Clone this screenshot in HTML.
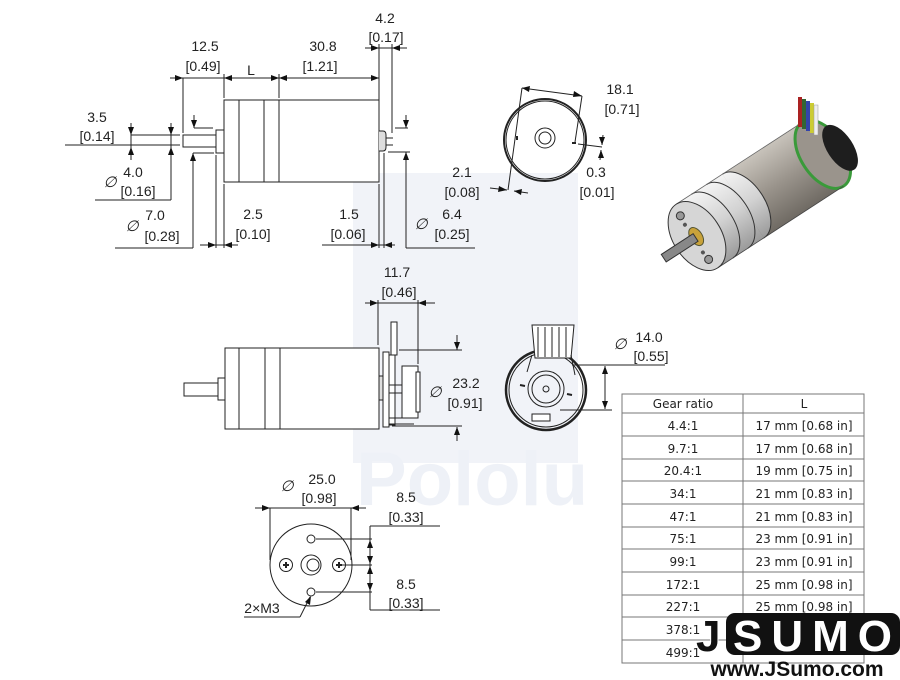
<!DOCTYPE html>
<html><head><meta charset="utf-8"><style>
html,body{margin:0;padding:0;background:#fff;}
svg{display:block;}
text{font-family:"Liberation Sans",sans-serif;fill:#222;}
</style></head><body>
<svg width="900" height="680" viewBox="0 0 900 680" xmlns="http://www.w3.org/2000/svg">
<defs>
<linearGradient id="g1" x1="0" y1="0" x2="0" y2="1"><stop offset="0" stop-color="#f4f4f4"/><stop offset="0.5" stop-color="#d2d2d2"/><stop offset="1" stop-color="#9a9a9a"/></linearGradient>
<linearGradient id="g2" x1="0" y1="0" x2="0" y2="1"><stop offset="0" stop-color="#c8c3bb"/><stop offset="0.5" stop-color="#9a948c"/><stop offset="1" stop-color="#6f6a63"/></linearGradient>
</defs>
<!-- watermark -->
<rect x="353" y="173" width="225" height="290" fill="#f1f3f8"/>
<text x="356" y="505" font-size="76" font-weight="bold" style="fill:#eef1f7">Pololu</text>

<g stroke="#222" stroke-width="1" fill="none">
<!-- top side view -->
<rect x="224" y="100" width="55" height="82" fill="#fff"/>
<line x1="239" y1="100" x2="239" y2="182"/><line x1="264" y1="100" x2="264" y2="182"/>
<rect x="279" y="100" width="100" height="82" fill="#fff"/>
<rect x="216" y="130" width="8" height="23" fill="#fff"/>
<rect x="183" y="135" width="33" height="12" fill="#fff"/>
<path d="M379,131 h4 q3,0 3,4 v12 q0,4 -3,4 h-4" fill="#ddd"/>
<line x1="386" y1="138" x2="393" y2="138"/><line x1="386" y1="145" x2="393" y2="145"/>
<!-- top dims -->
<line x1="170" y1="78" x2="379" y2="78"/>
<line x1="183" y1="78" x2="183" y2="133"/>
<line x1="224" y1="74" x2="224" y2="98"/><line x1="279" y1="74" x2="279" y2="98"/>
<line x1="379" y1="44" x2="379" y2="128"/><line x1="392" y1="44" x2="392" y2="133"/>
<line x1="365" y1="48" x2="407" y2="48"/>
<line x1="406" y1="115" x2="406" y2="128"/><line x1="395" y1="128" x2="408" y2="128"/>
<line x1="406" y1="152" x2="406" y2="248"/><line x1="388" y1="152" x2="410" y2="152"/>
<line x1="406" y1="248" x2="475" y2="248"/>
<!-- left dims -->
<line x1="65" y1="145" x2="180" y2="145"/>
<line x1="131" y1="123" x2="131" y2="160"/>
<line x1="131" y1="135" x2="180" y2="135"/>
<line x1="171" y1="123" x2="171" y2="200"/>
<line x1="95" y1="200" x2="171" y2="200"/>
<line x1="193" y1="248" x2="193" y2="153"/><line x1="115" y1="248" x2="193" y2="248"/>
<line x1="193" y1="153" x2="214" y2="153"/>
<line x1="194" y1="115" x2="194" y2="128"/><line x1="194" y1="128" x2="213" y2="128"/>
<!-- bottom dims -->
<line x1="216" y1="155" x2="216" y2="248"/><line x1="224" y1="184" x2="224" y2="248"/>
<line x1="200" y1="245" x2="238" y2="245"/>
<line x1="379" y1="184" x2="379" y2="248"/><line x1="384" y1="153" x2="384" y2="248"/>
<line x1="322" y1="245" x2="395" y2="245"/>

<!-- top end view -->
<circle cx="545" cy="140" r="41" stroke-width="2"/>
<circle cx="545" cy="140" r="39"/>
<circle cx="545" cy="138" r="10"/><circle cx="545" cy="138" r="6"/>
<line x1="517" y1="136" x2="517" y2="140" stroke-width="2"/>
<line x1="572" y1="143" x2="576" y2="143" stroke-width="2"/>
<line x1="522" y1="88" x2="508" y2="190"/><line x1="582" y1="96" x2="575" y2="142"/>
<line x1="522" y1="88" x2="582" y2="96"/>
<line x1="490" y1="188" x2="507" y2="190"/><line x1="528" y1="193" x2="514" y2="191"/>
<line x1="578" y1="144" x2="602" y2="147"/>
<line x1="603" y1="135" x2="602" y2="145"/><line x1="600" y1="160" x2="601" y2="150"/>

<!-- middle side view -->
<rect x="225" y="348" width="55" height="81" fill="#fff"/>
<line x1="239" y1="348" x2="239" y2="429"/><line x1="265" y1="348" x2="265" y2="429"/>
<rect x="280" y="348" width="99" height="81" fill="#fff"/>
<rect x="218" y="378" width="7" height="22" fill="#fff"/>
<rect x="184" y="383" width="34" height="13" fill="#fff"/>
<rect x="379" y="376" width="5" height="24" fill="#ddd"/>
<rect x="383" y="352" width="6" height="75" fill="#fff"/>
<rect x="389" y="355" width="6" height="70" fill="#fff"/>
<rect x="391" y="322" width="6" height="33" fill="#fff"/>
<rect x="402" y="366" width="16" height="52" fill="#fff"/>
<rect x="416" y="372" width="4" height="40" fill="#fff"/>
<line x1="389" y1="385" x2="402" y2="385"/><line x1="389" y1="393" x2="402" y2="393"/>
<line x1="389" y1="418" x2="414" y2="418"/><line x1="389" y1="424" x2="414" y2="424"/>
<line x1="378" y1="300" x2="378" y2="345"/><line x1="418" y1="300" x2="418" y2="364"/>
<line x1="365" y1="303" x2="435" y2="303"/>
<line x1="399" y1="350" x2="462" y2="350"/>
<line x1="457" y1="335" x2="457" y2="350"/>
<line x1="392" y1="426" x2="462" y2="426"/>
<line x1="457" y1="441" x2="457" y2="427"/>

<!-- middle end view -->
<circle cx="546" cy="390" r="40" stroke-width="2.5"/>
<circle cx="546" cy="390" r="37"/>
<circle cx="546" cy="389" r="18"/><circle cx="546" cy="389" r="14"/><circle cx="546" cy="389" r="3"/>
<path d="M532,325 h42 l-3,33 h-36 z" fill="#fff"/>
<line x1="538" y1="327" x2="538" y2="357"/><line x1="545" y1="327" x2="545" y2="357"/><line x1="552" y1="327" x2="552" y2="357"/><line x1="559" y1="327" x2="559" y2="357"/><line x1="566" y1="327" x2="566" y2="357"/>
<line x1="532" y1="355" x2="527" y2="372"/><line x1="571" y1="355" x2="575" y2="375"/>
<line x1="520" y1="385" x2="525" y2="386" stroke-width="2"/><line x1="567" y1="394" x2="572" y2="395" stroke-width="2"/>
<rect x="532" y="414" width="18" height="7" fill="#fff"/>
<line x1="572" y1="365" x2="665" y2="365"/><line x1="560" y1="410" x2="612" y2="410"/>
<line x1="605" y1="366" x2="605" y2="409"/>

<!-- bottom end view -->
<circle cx="311" cy="565" r="41" fill="#fff"/>
<circle cx="311" cy="539" r="4"/><circle cx="311" cy="592" r="4"/>
<circle cx="286" cy="565" r="6.5"/><circle cx="339" cy="565" r="6.5"/>
<path d="M283,565 h6 M286,562 v6 M336,565 h6 M339,562 v6" stroke-width="2"/>
<circle cx="311" cy="565" r="10"/><circle cx="313" cy="565" r="6"/>
<line x1="270" y1="508" x2="270" y2="560"/><line x1="351" y1="508" x2="351" y2="560"/>
<line x1="255" y1="508" x2="366" y2="508"/>
<line x1="370" y1="526" x2="440" y2="526"/><line x1="370" y1="610" x2="440" y2="610"/>
<line x1="316" y1="539" x2="372" y2="539"/><line x1="340" y1="565" x2="372" y2="565"/><line x1="316" y1="592" x2="372" y2="592"/>
<line x1="370" y1="526" x2="370" y2="610"/>
<line x1="244" y1="617" x2="300" y2="617"/><line x1="300" y1="617" x2="310" y2="597"/>
</g>

<!-- arrowheads -->
<g fill="#111" stroke="none">
<path d="M183,78 l-8,-3 v6z M224,78 l8,-3 v6z M279,78 l-8,-3 v6z M279,78 l8,-3 v6z M379,78 l-8,-3 v6z"/>
<path d="M379,48 l-8,-3 v6z M392,48 l8,-3 v6z"/>
<path d="M216,245 l-8,-3 v6z M224,245 l8,-3 v6z M379,245 l-8,-3 v6z M384,245 l8,-3 v6z"/>
<path d="M131,135 l-3,-8 h6z M131,147 l-3,8 h6z M171,135 l-3,-8 h6z M171,147 l-3,8 h6z M193,153 l-3,8 h6z M194,128 l-3,-8 h6z M406,128 l-3,-8 h6z M406,152 l-3,8 h6z"/>
<path d="M522,88 l8,-2 l-1,6z M582,96 l-8,-5 l-1,6z"/>
<path d="M507,190 l-8,-4 l-1,6z M514,191 l8,-2 l-1,6z M602,145 l-3,-8 h6z M601,150 l-3,8 h6z"/>
<path d="M378,303 l-8,-3 v6z M418,303 l8,-3 v6z"/>
<path d="M457,350 l-3,-8 h6z M457,427 l-3,8 h6z"/>
<path d="M605,366 l-3,8 h6z M605,409 l-3,-8 h6z"/>
<path d="M270,508 l-8,-3 v6z M351,508 l8,-3 v6z"/>
<path d="M370,540 l-3,8 h6z M370,564 l-3,-8 h6z M370,566 l-3,8 h6z M370,591 l-3,-8 h6z"/>
<path d="M311,596 l-1,9 l-5,-3z"/>
</g>

<!-- 3D motor -->
<g transform="translate(697,236) rotate(-33)">
<rect x="0" y="-38" width="150" height="76" fill="url(#g2)"/>
<ellipse cx="150" cy="0" rx="22" ry="38" fill="#9a948c" stroke="#3a9a3a" stroke-width="3"/>
<ellipse cx="168" cy="4" rx="13" ry="26" fill="#1e1e1e"/>
<rect x="0" y="-38" width="55" height="76" fill="url(#g1)"/>
<path d="M55,-38 a22,38 0 0 1 0,76" fill="url(#g1)" stroke="#333"/>
<path d="M18,-38 a22,38 0 0 1 0,76" fill="none" stroke="#333"/>
<path d="M36,-38 a22,38 0 0 1 0,76" fill="none" stroke="#333"/>
<line x1="0" y1="-38" x2="150" y2="-38" stroke="#666" stroke-width="0.8"/>
<line x1="0" y1="38" x2="150" y2="38" stroke="#444" stroke-width="0.8"/>
<ellipse cx="0" cy="0" rx="24" ry="38" fill="#d6d6d6" stroke="#333"/>
<ellipse cx="-1" cy="0" rx="6" ry="10" fill="#c8a23a" stroke="#553"/>
<rect x="-40" y="-4" width="38" height="9" fill="#888" stroke="#333"/>
<circle cx="-3" cy="-26" r="4" fill="#999" stroke="#333"/><circle cx="-3" cy="26" r="4" fill="#999" stroke="#333"/>
<circle cx="-4" cy="-16" r="2" fill="#555"/><circle cx="-4" cy="17" r="2" fill="#555"/>
</g>
<g>
<rect x="798" y="97" width="4" height="30" fill="#a22"/><rect x="802" y="99" width="4" height="30" fill="#363"/><rect x="806" y="101" width="4" height="30" fill="#34a"/><rect x="810" y="103" width="4" height="30" fill="#cc3"/><rect x="814" y="105" width="4" height="30" fill="#eee" stroke="#999" stroke-width="0.5"/>
</g>

<!-- labels -->
<g font-size="14" text-anchor="middle">
<text x="205" y="51">12.5</text><text x="203" y="71">[0.49]</text>
<text x="251" y="75">L</text>
<text x="323" y="51">30.8</text><text x="320" y="71">[1.21]</text>
<text x="385" y="23">4.2</text><text x="386" y="42">[0.17]</text>
<text x="97" y="122">3.5</text><text x="97" y="141">[0.14]</text>
<text x="133" y="177">4.0</text><text x="138" y="196">[0.16]</text>
<text x="155" y="220">7.0</text><text x="162" y="241">[0.28]</text>
<text x="253" y="219">2.5</text><text x="253" y="239">[0.10]</text>
<text x="349" y="219">1.5</text><text x="348" y="239">[0.06]</text>
<text x="452" y="219">6.4</text><text x="452" y="239">[0.25]</text>
<text x="462" y="177">2.1</text><text x="462" y="197">[0.08]</text>
<text x="620" y="94">18.1</text><text x="622" y="114">[0.71]</text>
<text x="596" y="177">0.3</text><text x="597" y="197">[0.01]</text>
<text x="397" y="277">11.7</text><text x="399" y="297">[0.46]</text>
<text x="466" y="388">23.2</text><text x="465" y="408">[0.91]</text>
<text x="649" y="342">14.0</text><text x="651" y="361">[0.55]</text>
<text x="322" y="484">25.0</text><text x="319" y="503">[0.98]</text>
<text x="406" y="502">8.5</text><text x="406" y="522">[0.33]</text>
<text x="406" y="589">8.5</text><text x="406" y="608">[0.33]</text>
<text x="262" y="613">2×M3</text>
</g>
<g font-size="15" font-style="italic" text-anchor="middle">
<text x="110" y="187">∅</text><text x="132" y="231">∅</text><text x="421" y="229">∅</text>
<text x="435" y="397">∅</text><text x="620" y="349">∅</text><text x="287" y="491">∅</text>
</g>

<!-- table -->
<g stroke="#777" stroke-width="1" fill="none">
<rect x="622" y="394" width="242" height="269"/>
<line x1="743" y1="394" x2="743" y2="663"/>
<line x1="622" y1="413" x2="864" y2="413"/><line x1="622" y1="436" x2="864" y2="436"/><line x1="622" y1="459" x2="864" y2="459"/><line x1="622" y1="481" x2="864" y2="481"/><line x1="622" y1="504" x2="864" y2="504"/><line x1="622" y1="527" x2="864" y2="527"/><line x1="622" y1="549" x2="864" y2="549"/><line x1="622" y1="572" x2="864" y2="572"/><line x1="622" y1="595" x2="864" y2="595"/><line x1="622" y1="617" x2="864" y2="617"/><line x1="622" y1="640" x2="864" y2="640"/>
</g>
<g font-size="12" text-anchor="middle" style="font-family:'DejaVu Sans',sans-serif">
<text x="683" y="408" style="font-family:'DejaVu Sans'">Gear ratio</text><text x="804" y="408" style="font-family:'DejaVu Sans'">L</text>
<text x="683" y="430" style="font-family:'DejaVu Sans'">4.4:1</text><text x="804" y="430" style="font-family:'DejaVu Sans'">17 mm [0.68 in]</text>
<text x="683" y="453" style="font-family:'DejaVu Sans'">9.7:1</text><text x="804" y="453" style="font-family:'DejaVu Sans'">17 mm [0.68 in]</text>
<text x="683" y="475" style="font-family:'DejaVu Sans'">20.4:1</text><text x="804" y="475" style="font-family:'DejaVu Sans'">19 mm [0.75 in]</text>
<text x="683" y="498" style="font-family:'DejaVu Sans'">34:1</text><text x="804" y="498" style="font-family:'DejaVu Sans'">21 mm [0.83 in]</text>
<text x="683" y="521" style="font-family:'DejaVu Sans'">47:1</text><text x="804" y="521" style="font-family:'DejaVu Sans'">21 mm [0.83 in]</text>
<text x="683" y="543" style="font-family:'DejaVu Sans'">75:1</text><text x="804" y="543" style="font-family:'DejaVu Sans'">23 mm [0.91 in]</text>
<text x="683" y="566" style="font-family:'DejaVu Sans'">99:1</text><text x="804" y="566" style="font-family:'DejaVu Sans'">23 mm [0.91 in]</text>
<text x="683" y="589" style="font-family:'DejaVu Sans'">172:1</text><text x="804" y="589" style="font-family:'DejaVu Sans'">25 mm [0.98 in]</text>
<text x="683" y="611" style="font-family:'DejaVu Sans'">227:1</text><text x="804" y="611" style="font-family:'DejaVu Sans'">25 mm [0.98 in]</text>
<text x="683" y="634" style="font-family:'DejaVu Sans'">378:1</text>
<text x="683" y="657" style="font-family:'DejaVu Sans'">499:1</text>
</g>

<!-- JSUMO logo -->
<rect x="726" y="613" width="174" height="42" rx="9" fill="#111"/>
<text x="696" y="651" font-size="44" font-weight="bold" style="fill:#111;stroke:#fff;stroke-width:2;paint-order:stroke;font-family:'Liberation Sans'">J</text>
<text x="733" y="651" font-size="44" font-weight="bold" style="fill:#fff;letter-spacing:9px;font-family:'Liberation Sans'">SUMO</text>
<text x="797" y="676" font-size="21" font-weight="bold" text-anchor="middle" style="fill:#111">www.JSumo.com</text>
</svg>
</body></html>
